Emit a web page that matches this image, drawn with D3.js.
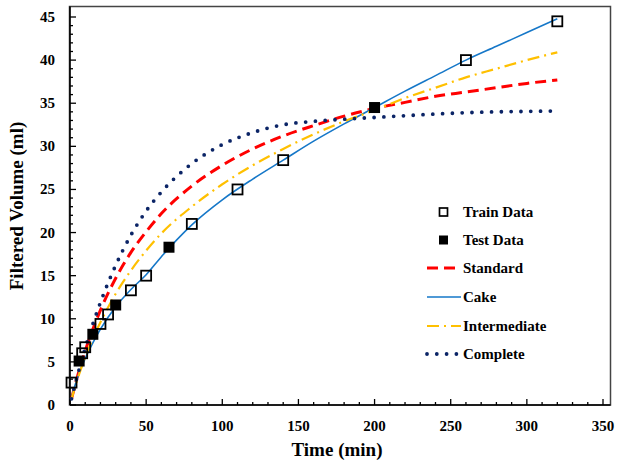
<!DOCTYPE html>
<html>
<head>
<meta charset="utf-8">
<script src="https://cdn.jsdelivr.net/npm/d3@7"></script>
<style>
body { margin: 0; background: #fff; }
text { font-family: "Liberation Serif", "Times New Roman", serif; font-weight: bold; fill: #000; }
</style>
</head>
<body>
<script>
const width = 617;
const height = 461;

// measured points
const trainTime = [1, 8, 10, 20, 25, 40, 50, 80, 110, 140, 260, 320];
const trainVol = [2.6, 6.0, 6.7, 9.4, 10.5, 13.3, 15.0, 21.0, 25.0, 28.4, 40.0, 44.5];
const testTime = [6, 15, 30, 65, 200];
const testVol = [5.1, 8.2, 11.6, 18.3, 34.5];

// model curves
const modelTime = [1, 2, 5, 10, 15, 20, 30, 40, 50, 60, 80, 100, 120, 140, 160, 180, 200, 220, 240, 260, 280, 300, 320];
const standardVol = [0.72, 1.41, 3.37, 6.27, 8.79, 11.0, 14.7, 17.7, 20.1, 22.2, 25.4, 27.8, 29.7, 31.2, 32.4, 33.5, 34.4, 35.1, 35.8, 36.3, 36.8, 37.3, 37.7];
const cakeVol = [0.8, 1.5, 3.2, 5.4, 7.2, 8.8, 11.4, 13.4, 15.1, 17.2, 20.9, 23.8, 26.2, 28.4, 30.6, 32.6, 34.5, 36.4, 38.2, 40.0, 41.6, 43.2, 44.8];
const intermediateVol = [0.66, 1.31, 3.03, 5.56, 7.72, 9.6, 12.9, 15.6, 17.9, 19.9, 23.0, 25.6, 27.8, 29.7, 31.4, 32.9, 34.2, 35.6, 36.8, 38.0, 39.0, 40.0, 40.9];
const completeVol = [0.72, 1.45, 3.47, 6.59, 9.39, 11.9, 16.2, 19.7, 22.5, 24.7, 28.0, 30.2, 31.6, 32.5, 32.9, 33.15, 33.35, 33.55, 33.75, 33.9, 34.0, 34.05, 34.1];

const xTicks = [0, 50, 100, 150, 200, 250, 300, 350];
const yTicks = [0, 5, 10, 15, 20, 25, 30, 35, 40, 45];

const series = [
	{name: "Standard", values: standardVol, color: "#ff0000", width: 3, dash: "11 6", cap: "butt"},
	{name: "Cake", values: cakeVol, color: "#1577c8", width: 1.6, dash: null, cap: "butt"},
	{name: "Intermediate", values: intermediateVol, color: "#ffc000", width: 2.2, dash: "12 5 2 5", cap: "butt"},
	{name: "Complete", values: completeVol, color: "#0b2466", width: 3.8, dash: "0 9.8", cap: "round"}
];

const x = d3.scaleLinear().domain([0, 350]).range([70, 603]);
const y = d3.scaleLinear().domain([0, 45]).range([405, 17]);

const svg = d3.select("body")
	.append("svg")
	.attr("width", width)
	.attr("height", height);

// outer frame
svg.append("rect")
	.attr("x", 69.5)
	.attr("y", 6.5)
	.attr("width", 541)
	.attr("height", 398.5)
	.attr("fill", "none")
	.attr("stroke", "#444")
	.attr("stroke-width", 1.5);

// minor / major ticks, pointing inward
const g = svg.append("g");
d3.range(0, 351, 10).forEach((t) => {
	g.append("line")
		.attr("x1", x(t)).attr("x2", x(t))
		.attr("y1", 405).attr("y2", t % 50 === 0 ? 399 : 402)
		.attr("stroke", "#000").attr("stroke-width", 1.3);
});
d3.range(0, 46, 1).forEach((v) => {
	g.append("line")
		.attr("x1", 70).attr("x2", v % 5 === 0 ? 76 : 73)
		.attr("y1", y(v)).attr("y2", y(v))
		.attr("stroke", "#000").attr("stroke-width", 1.3);
});

// axis lines
svg.append("line").attr("x1", 70).attr("x2", 610.5).attr("y1", 405).attr("y2", 405)
	.attr("stroke", "#000").attr("stroke-width", 1.6);
svg.append("line").attr("x1", 70).attr("x2", 70).attr("y1", 6.5).attr("y2", 405)
	.attr("stroke", "#000").attr("stroke-width", 1.6);

svg.selectAll(".xlab")
	.data(xTicks)
	.enter()
	.append("text")
	.attr("x", (d) => x(d))
	.attr("y", 431)
	.attr("text-anchor", "middle")
	.attr("font-size", 15)
	.text((d) => d);

svg.selectAll(".ylab")
	.data(yTicks)
	.enter()
	.append("text")
	.attr("x", 55)
	.attr("y", (d) => y(d) + 5)
	.attr("text-anchor", "end")
	.attr("font-size", 15)
	.text((d) => d);

svg.append("text")
	.attr("x", 337)
	.attr("y", 456)
	.attr("text-anchor", "middle")
	.attr("font-size", 19)
	.text("Time (min)");

svg.append("text")
	.attr("transform", "translate(23,206) rotate(-90)")
	.attr("text-anchor", "middle")
	.attr("font-size", 19)
	.text("Filtered Volume (ml)");

// curves
const line = d3.line()
	.x((d) => x(d[0]))
	.y((d) => y(d[1]))
	.curve(d3.curveMonotoneX);

series.forEach((s) => {
	svg.append("path")
		.datum(modelTime.map((t, i) => [t, s.values[i]]))
		.attr("d", line)
		.attr("fill", "none")
		.attr("stroke", s.color)
		.attr("stroke-width", s.width)
		.attr("stroke-dasharray", s.dash)
		.attr("stroke-linecap", s.cap);
});

// data markers
svg.selectAll(".train")
	.data(trainTime.map((t, i) => [t, trainVol[i]]))
	.enter()
	.append("rect")
	.attr("x", (d) => x(d[0]) - 5)
	.attr("y", (d) => y(d[1]) - 5)
	.attr("width", 10)
	.attr("height", 10)
	.attr("fill", "#fff")
	.attr("fill-opacity", 0)
	.attr("stroke", "#000")
	.attr("stroke-width", 1.8);

svg.selectAll(".test")
	.data(testTime.map((t, i) => [t, testVol[i]]))
	.enter()
	.append("rect")
	.attr("x", (d) => x(d[0]) - 5.5)
	.attr("y", (d) => y(d[1]) - 5.5)
	.attr("width", 11)
	.attr("height", 11)
	.attr("fill", "#000");

// legend
const legendY = [212, 240, 268, 297, 326, 354];
const legend = svg.append("g");
legend.append("rect")
	.attr("x", 439.5).attr("y", legendY[0] - 4)
	.attr("width", 8).attr("height", 8)
	.attr("fill", "none").attr("stroke", "#000").attr("stroke-width", 1.7);
legend.append("rect")
	.attr("x", 439).attr("y", legendY[1] - 4.5)
	.attr("width", 9).attr("height", 9)
	.attr("fill", "#000");
series.forEach((s, i) => {
	legend.append("line")
		.attr("x1", 427).attr("x2", 461)
		.attr("y1", legendY[i + 2]).attr("y2", legendY[i + 2])
		.attr("stroke", s.color)
		.attr("stroke-width", s.width)
		.attr("stroke-dasharray", s.dash)
		.attr("stroke-linecap", s.cap);
});
legend.selectAll("text")
	.data(["Train Data", "Test Data"].concat(series.map((s) => s.name)))
	.enter()
	.append("text")
	.attr("x", 463)
	.attr("y", (d, i) => legendY[i] + 5)
	.attr("font-size", 15)
	.text((d) => d);
</script>
</body>
</html>
